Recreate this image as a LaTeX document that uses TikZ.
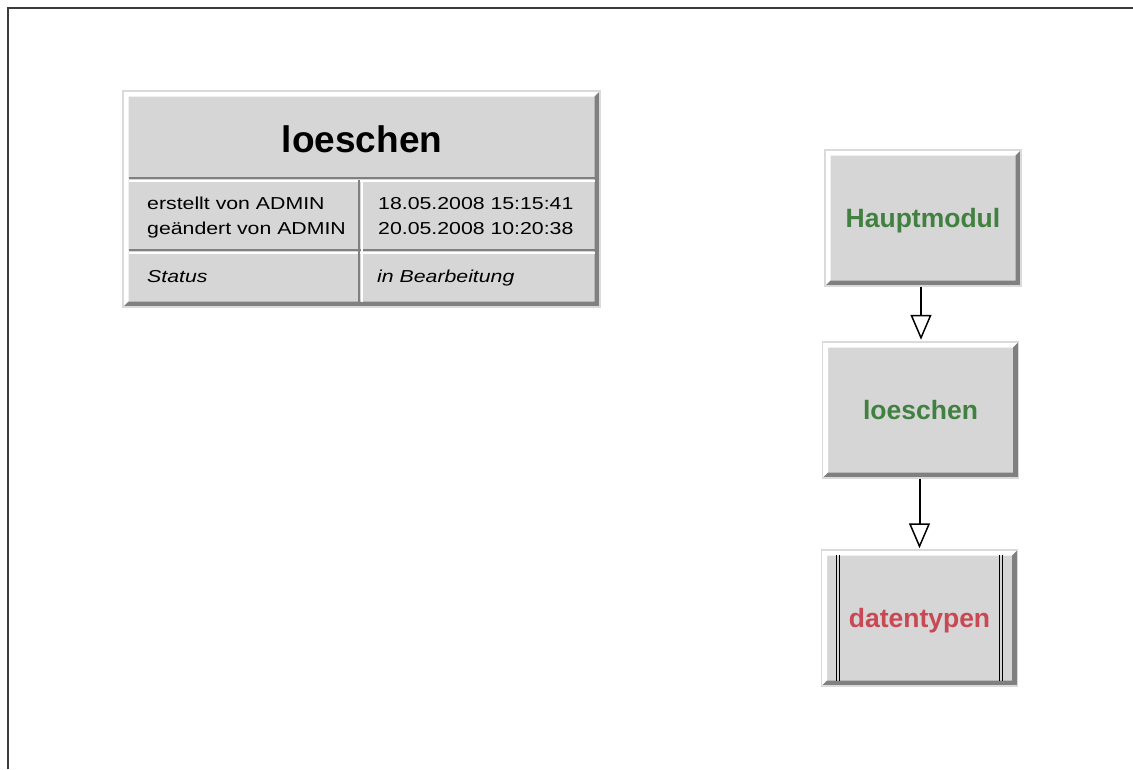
\documentclass[tikz,border=0pt]{standalone}
\usepackage{fontspec}
\setmainfont{Liberation Sans}
\newfontfamily\tabfont[FakeStretch=1.23]{Liberation Sans}
\usetikzlibrary{arrows.meta,calc}
\definecolor{boxgray}{RGB}{214,214,214}
\definecolor{bevdark}{RGB}{128,128,128}
\definecolor{bevlight}{RGB}{255,255,255}
\definecolor{bevedge}{RGB}{218,218,218}
\definecolor{modgreen}{RGB}{64,128,64}
\definecolor{modred}{RGB}{200,72,84}
\definecolor{framecol}{RGB}{60,60,60}
\tikzset{
  bevel/.style={fill=boxgray, draw=bevedge, line width=1.5pt, inner sep=0pt, path picture={
    \coordinate (bsw) at (path picture bounding box.south west);
    \coordinate (bne) at (path picture bounding box.north east);
    \fill[bevlight] (bsw) -- (bsw |- bne) -- (bne) -- ($(bne)+(-5.5pt,-5.5pt)$)
      -- ($(bsw |- bne)+(5.5pt,-5.5pt)$) -- ($(bsw)+(5.5pt,5.5pt)$) -- cycle;
    \fill[bevdark] (bsw) -- (bsw -| bne) -- (bne) -- ($(bne)+(-5.5pt,-5.5pt)$)
      -- ($(bsw -| bne)+(-5.5pt,5.5pt)$) -- ($(bsw)+(5.5pt,5.5pt)$) -- cycle;
  }},
  modbox/.style={bevel, minimum width=196pt, minimum height=136pt,
    text height=19pt, text depth=0pt,
    font=\fontsize{26.5}{30}\selectfont\bfseries},
  libbox/.style={modbox, append after command={
    [draw=bevdark, line width=2pt]
    ($(\tikzlastnode.north west)+(15pt,-5.5pt)$) edge ($(\tikzlastnode.south west)+(15pt,5.5pt)$)
    ($(\tikzlastnode.north east)+(-19pt,-5.5pt)$) edge ($(\tikzlastnode.south east)+(-19pt,5.5pt)$)
    [draw=bevlight, line width=3pt]
    ($(\tikzlastnode.north west)+(18.5pt,-5.5pt)$) edge ($(\tikzlastnode.south west)+(18.5pt,5.5pt)$)
    ($(\tikzlastnode.north east)+(-16.5pt,-5.5pt)$) edge ($(\tikzlastnode.south east)+(-16.5pt,5.5pt)$)
  }},
  darkrule/.style={draw=bevdark, line width=2pt},
  lightrule/.style={draw=bevlight, line width=2pt},
  celltext/.style={anchor=base west, inner sep=0pt, font=\tabfont\fontsize{17.3}{20}\selectfont},
  conn/.style={line width=2pt, -{Triangle[open, length=25pt, width=21pt, line width=1.5pt]}},
}
\begin{document}
\begin{tikzpicture}[x=1pt, y=-1pt]
\useasboundingbox (0,0) rectangle (1133,769);
\fill[white] (0,0) rectangle (1133,769);
% frame
\coordinate (ftl) at (8,8);
\coordinate (ftr) at (1133,8);
\coordinate (fbl) at (8,769);
\draw[framecol, line width=2.5pt] (fbl) -- (ftl) -- (ftr);

% info table
\node[bevel, minimum width=477pt, minimum height=216pt] (table) at (361.5,199) {};
\draw[darkrule] (129,178) -- (595,178);
\draw[lightrule] (129,181) -- (595,181);
\draw[darkrule] (129,250) -- (595,250);
\draw[lightrule] (129,253) -- (595,253);
\draw[darkrule] (359,180) -- (359,302);
\draw[lightrule] (361.5,180) -- (361.5,302);
\node[anchor=base, inner sep=0pt, font=\fontsize{37}{42}\selectfont\bfseries] (title) at (362,152) {loeschen};
\node[celltext] (c1) at (147,209) {erstellt von ADMIN};
\node[celltext] (c2) at (147,234) {geändert von ADMIN};
\node[celltext] (c3) at (378,209) {18.05.2008 15:15:41};
\node[celltext] (c4) at (378,234) {20.05.2008 10:20:38};
\node[celltext, font=\tabfont\fontsize{17.3}{20}\selectfont\itshape] (c5) at (147,282) {Status};
\node[celltext, font=\tabfont\fontsize{17.3}{20}\selectfont\itshape] (c6) at (377,282) {in Bearbeitung};

% modules
\node[modbox, text=modgreen] (haupt) at (923,218) {Hauptmodul};
\node[modbox, text=modgreen] (lo) at (920.5,410) {loeschen};
\node[libbox, text=modred] (dt) at (919.5,618) {datentypen};

\draw[conn] ($(haupt.south)+(-2pt,0)$) -- ($(haupt.south |- lo.north)+(-2pt,1.5pt)$);
\draw[conn] ($(lo.south)+(-1pt,0)$) -- ($(lo.south |- dt.north)+(-1pt,1pt)$);
\end{tikzpicture}
\end{document}
